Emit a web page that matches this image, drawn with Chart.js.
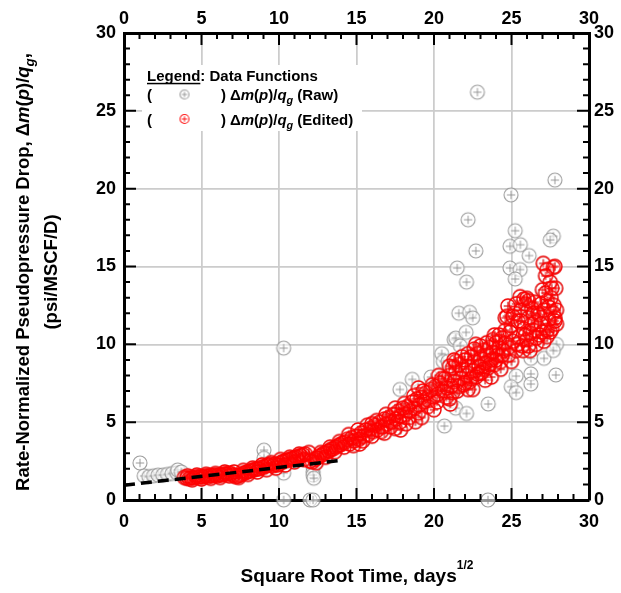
<!DOCTYPE html>
<html><head><meta charset="utf-8">
<script src="https://cdn.jsdelivr.net/npm/chart.js@4.4.1/dist/chart.umd.min.js"></script>
<style>html,body{margin:0;padding:0;background:#fff;}canvas{display:block;}</style>
</head><body>
<canvas id="c" width="621" height="593"></canvas>
<script>
const FONT = '"Liberation Sans", Arial, Helvetica, sans-serif';
const tickValues = [0, 5, 10, 15, 20, 25, 30];

// Edited data: [sqrt(t), dm(p)/qg]
const editedPoints = [
[3.9,1.45],[4.05,1.4],[4.2,1.38],[4.35,1.45],[4.5,1.42],[4.65,1.5],[4.8,1.45],[4.95,1.52],[5.1,1.48],[5.25,1.55],
[5.4,1.5],[5.55,1.58],[5.7,1.55],[5.85,1.6],[6.0,1.55],[6.15,1.62],[6.3,1.6],[6.45,1.68],[6.6,1.65],[6.75,1.72],
[6.9,1.7],[7.05,1.6],[7.2,1.5],[7.35,1.55],[7.5,1.6],[7.65,1.7],[7.8,1.75],[7.95,1.8],[8.1,1.85],[8.25,1.9],
[8.4,1.95],[8.55,2.0],[8.7,2.0],[8.85,2.1],[9.0,2.1],[9.15,2.2],[9.3,2.25],[9.45,2.3],[9.6,2.2],[9.75,2.3],
[9.9,2.25],[10.05,2.35],[10.2,2.45],[10.35,2.5],[10.5,2.55],[10.65,2.6],[10.8,2.65],[10.95,2.7],[11.1,2.75],[11.25,2.8],
[11.4,2.85],[11.55,2.9],[11.7,2.95],[11.93,3.05],[12.0,2.5],[12.15,2.45],[12.3,2.6],[12.45,2.7],[12.6,2.8],[12.75,2.9],
[12.9,3.0],[13.05,3.05],[13.2,3.15],[13.35,3.25],[13.5,3.3],[13.65,3.4],[13.8,3.5],[13.95,3.55],[14.1,3.65],[14.25,3.7],
[14.4,3.9],[14.55,3.6],[14.7,4.0],[14.85,3.8],[15.0,4.1],[15.15,3.9],[15.3,4.3],[15.45,4.1],[15.6,4.5],[15.75,4.2],
[15.9,4.6],[16.05,4.4],[16.2,4.8],[16.35,4.5],[16.5,5.0],[16.65,4.7],[16.8,5.2],[16.95,4.9],[17.1,5.3],[17.25,5.0],
[17.4,5.5],[17.55,5.2],[17.7,5.7],[17.84,4.5],[17.85,5.4],[18.0,5.9],[18.15,5.5],[18.3,6.0],[18.45,5.7],[18.6,6.3],
[18.8,5.03],[18.75,5.9],[18.9,6.5],[19.05,6.1],[19.2,6.6],[19.35,6.3],[19.5,6.9],[19.65,6.4],[19.8,7.1],[19.95,6.6],
[20.1,7.3],[20.25,6.8],[20.4,7.5],[20.55,7.0],[20.7,7.8],[20.85,7.2],[21.0,8.0],[21.05,6.17],[21.1,7.3],[21.2,8.5],
[21.3,7.6],[21.4,8.2],[21.5,7.0],[21.6,8.7],[21.7,7.8],[21.8,8.4],[21.9,7.4],[22.0,9.0],[22.1,8.0],[22.2,8.6],
[22.3,7.6],[22.4,9.2],[22.5,8.3],[22.5,7.1],[22.6,8.9],[22.7,7.9],[22.8,9.4],[22.9,8.6],[23.0,9.1],[23.0,8.15],
[23.1,8.2],[23.2,9.6],[23.3,8.8],[23.4,9.3],[23.5,8.5],[23.6,9.8],[23.7,7.9],[23.7,9.0],[23.8,9.5],[23.9,8.7],
[24.0,10.1],[24.1,9.3],[24.2,9.8],[24.3,8.9],[24.4,10.4],[24.5,9.6],[24.6,10.1],[24.6,11.7],[24.7,11.8],[24.77,12.46],
[24.8,9.3],[24.9,10.8],[25.0,11.2],[25.0,8.9],[25.1,10.2],[25.2,12.0],[25.3,9.6],[25.4,11.5],[25.5,10.5],[25.56,13.06],
[25.6,12.2],[25.7,9.9],[25.75,9.6],[25.8,11.0],[25.9,12.6],[26.0,12.95],[26.0,10.3],[26.1,11.7],[26.1,12.8],[26.2,9.6],
[26.2,10.7],[26.3,12.3],[26.4,10.9],[26.4,12.0],[26.5,11.4],[26.6,10.0],[26.7,12.0],[26.8,10.6],[26.9,11.3],[26.9,12.6],
[27.0,13.5],[27.05,15.2],[27.1,10.2],[27.2,14.4],[27.3,10.5],[27.3,10.9],[27.3,12.8],[27.4,11.6],[27.5,14.0],[27.55,13.0],
[27.6,11.0],[27.7,14.95],[27.75,12.5],[27.8,11.5],[27.8,11.7],[27.8,15.0],[27.9,12.2],[27.85,13.6],
[4.1,1.55],[4.4,1.3],[4.7,1.6],[5.0,1.35],[5.3,1.65],[5.6,1.4],[5.9,1.7],[6.2,1.45],[6.5,1.8],[6.8,1.55],
[7.1,1.8],[7.4,1.45],[7.7,1.9],[8.0,1.65],[8.3,2.05],[8.6,1.8],[8.9,2.25],[9.2,1.95],[9.5,2.4],[9.8,2.05],
[10.1,2.6],[10.4,2.25],[10.7,2.75],[11.0,2.45],[11.3,2.95],[11.6,2.6],[12.4,2.4],[12.7,3.05],[13.0,2.75],[13.3,3.4],
[13.6,3.1],[13.9,3.75],[14.2,3.4],
[14.5,4.2],[14.8,3.5],[15.1,4.5],[15.4,3.8],[15.7,4.8],[16.0,4.1],[16.3,5.1],[16.6,4.4],[16.9,5.5],[17.2,4.7],
[17.5,5.9],[17.8,5.0],[18.1,6.2],[18.4,5.3],[18.7,6.7],[19.0,5.6],[19.3,7.0],[19.6,6.0],[19.9,7.4],[20.2,6.3],
[20.5,7.8],[20.8,6.6],
[21.0,8.6],[21.2,6.9],[21.4,8.9],[21.6,7.3],[21.8,9.2],[22.0,7.5],[22.2,9.4],[22.4,7.8],[22.6,9.7],[22.8,8.1],
[23.0,9.9],[23.2,8.4],[23.4,10.1],[23.6,8.7],[23.8,10.3],[24.0,9.0],[24.2,10.6],[24.4,9.3],[24.6,10.9],[24.8,9.8],
[25.1,11.8],[25.3,12.6],[25.4,10.0],[25.6,11.5],[25.8,12.9],[25.9,10.6],[26.1,9.9],[26.3,11.3],[26.5,12.7],[26.6,10.4],
[26.8,11.9],[27.0,10.8],[27.1,12.2],[27.2,13.3],[27.4,12.4],[27.5,10.8],[27.6,13.6],[27.7,12.0],[27.9,11.3],[27.3,14.8],
[15.2,3.6],[16.0,4.9],[16.8,4.3],[17.5,4.6],[18.2,4.9],[19.2,5.3],[19.0,7.2],[20.0,5.8],[20.3,8.0],[21.0,6.5],
[21.3,9.0],[22.2,7.1],[22.7,10.0],[23.3,7.7],[23.9,10.6],[24.3,8.4]
];

// Raw-only data (points removed in editing)
const rawOnlyPoints = [
[1.03,2.38],[1.3,1.55],[1.6,1.5],[1.9,1.55],[2.2,1.6],[2.5,1.6],[2.8,1.65],[3.1,1.7],[3.4,1.75],[3.46,1.93],[3.7,1.8],
[9.03,3.2],[9.03,2.68],[10.3,9.76],[10.3,0],[10.3,1.73],[12.0,0],[12.2,0],[12.2,2.1],[12.2,1.8],[12.2,1.6],[12.25,1.4],[23.48,0],
[17.8,7.1],[18.6,7.75],[19.8,7.9],[20.5,9.4],[20.6,8.9],[20.9,8.9],[20.67,4.75],[21.3,10.3],[21.4,10.4],[21.7,9.9],
[21.4,5.9],[22.1,5.56],[22.07,10.77],[21.6,12.0],[22.3,12.06],[22.5,11.7],[21.5,14.9],[22.1,14.0],[22.2,18.0],[22.7,16.0],
[22.8,26.2],[23.5,6.17],[24.9,14.9],[25.56,14.8],[25.24,14.2],[24.97,19.6],[25.24,17.3],[24.9,16.3],[25.57,16.4],[26.14,15.7],
[27.8,20.55],[27.7,16.95],[27.5,16.7],[26.25,9.1],[27.1,9.1],[27.9,10.0],[27.7,9.6],[26.25,8.1],[26.25,7.45],[25.3,7.96],
[24.98,7.28],[25.3,6.9],[27.86,8.03]
];

// Straight-line fit (dashed)
const fitPoints = [[0, 0.95], [13.8, 2.52]];

const toXY = a => a.map(p => ({x: p[0], y: p[1]}));

function marker(color, fill, r, size, lw) {
  const c = document.createElement('canvas');
  c.width = c.height = size;
  const g = c.getContext('2d');
  const m = size / 2;
  g.beginPath(); g.arc(m, m, r, 0, Math.PI * 2);
  if (fill) { g.fillStyle = fill; g.fill(); }
  g.strokeStyle = color; g.lineWidth = lw; g.stroke();
  const a = r * 0.6;
  g.beginPath(); g.moveTo(m - a, m); g.lineTo(m + a, m); g.moveTo(m, m - a); g.lineTo(m, m + a);
  g.lineWidth = 1; g.stroke();
  return c;
}
const redMark = marker('rgba(255,0,0,0.95)', null, 7, 18, 1.4);
const grayMark = marker('rgba(140,140,140,0.85)', 'rgba(255,255,255,0.6)', 7, 18, 1.1);
const redLeg = marker('rgba(255,0,0,0.9)', null, 4.5, 12, 1.1);
const grayLeg = marker('rgba(140,140,140,0.85)', null, 4.5, 12, 1.1);

function segFont(s, size) {
  const sz = s.size || ((s.sub || s.sup) ? size * 0.72 : size);
  return (s.it ? 'italic ' : '') + 'bold ' + sz + 'px ' + FONT;
}
function richWidth(ctx, segs, size) {
  let w = 0;
  for (const s of segs) { ctx.font = segFont(s, size); w += ctx.measureText(s.t).width; }
  return w;
}
function drawRich(ctx, segs, x, y, size, align) {
  const w = richWidth(ctx, segs, size);
  let cx = align === 'center' ? x - w / 2 : x;
  ctx.textBaseline = 'alphabetic'; ctx.textAlign = 'left'; ctx.fillStyle = '#000';
  for (const s of segs) {
    ctx.font = segFont(s, size);
    const dy = s.dy !== undefined ? s.dy : (s.sub ? size * 0.28 : (s.sup ? -size * 0.42 : 0));
    ctx.fillText(s.t, cx, y + dy);
    const sw = ctx.measureText(s.t).width;
    if (s.u) ctx.fillRect(cx, y + 2.3, sw, 1.5);
    cx += sw;
  }
}

const dmq = [{t: 'Δ'}, {t: 'm', it: true}, {t: '('}, {t: 'p', it: true}, {t: ')/'}, {t: 'q', it: true}, {t: 'g', it: true, sub: true}];

const decor = {
  id: 'decor',
  afterDraw(chart) {
    const ctx = chart.ctx;
    const a = chart.chartArea;
    const sx = chart.scales.x, sy = chart.scales.y;
    ctx.save();
    ctx.strokeStyle = '#000'; ctx.lineWidth = 2;
    ctx.beginPath();
    for (let v = 1; v < 30; v++) {
      const len = v % 5 === 0 ? 12 : 6;
      const px = sx.getPixelForValue(v), py = sy.getPixelForValue(v);
      ctx.moveTo(px, a.bottom); ctx.lineTo(px, a.bottom - len);
      ctx.moveTo(px, a.top); ctx.lineTo(px, a.top + len);
      ctx.moveTo(a.left, py); ctx.lineTo(a.left + len, py);
      ctx.moveTo(a.right, py); ctx.lineTo(a.right - len, py);
    }
    ctx.stroke();

    ctx.fillStyle = '#fff';
    ctx.fillRect(142, 65, 220, 66);
    const ls = 15;
    drawRich(ctx, [{t: 'Legend', u: true}, {t: ': Data Functions'}], 147, 80.5, ls, 'left');
    drawRich(ctx, [{t: '('}], 147, 100, ls, 'left');
    drawRich(ctx, [{t: ')'}], 221, 100, ls, 'left');
    drawRich(ctx, dmq.concat([{t: ' (Raw)'}]), 230, 100, ls, 'left');
    ctx.drawImage(grayLeg, 184.5 - 6, 94.5 - 6);
    drawRich(ctx, [{t: '('}], 147, 124.5, ls, 'left');
    drawRich(ctx, [{t: ')'}], 221, 124.5, ls, 'left');
    drawRich(ctx, dmq.concat([{t: ' (Edited)'}]), 230, 124.5, ls, 'left');
    ctx.drawImage(redLeg, 184.5 - 6, 119 - 6);

    drawRich(ctx, [{t: 'Square Root Time, days'}, {t: '1/2', size: 12, dy: -13}], 357, 582, 19, 'center');

    ctx.save();
    ctx.translate(28.5, 272); ctx.rotate(-Math.PI / 2);
    drawRich(ctx, [{t: 'Rate-Normalized Pseudopressure Drop, '}].concat(dmq, [{t: ','}]), 0, 0, 18.5, 'center');
    ctx.restore();
    ctx.save();
    ctx.translate(56.5, 272); ctx.rotate(-Math.PI / 2);
    drawRich(ctx, [{t: '(psi/MSCF/D)'}], 0, 0, 18.5, 'center');
    ctx.restore();
    ctx.restore();
  }
};

function axis(pos, pad, size) {
  return {
    type: 'linear', position: pos, min: 0, max: 30,
    ticks: {
      stepSize: 5, color: '#000', padding: pad, maxRotation: 0, autoSkip: false,
      font: {family: FONT, size: 18, weight: 'bold'},
      callback: v => tickValues.includes(v) ? String(v) : ''
    },
    grid: {
      drawTicks: false, lineWidth: 1.5,
      color: c => (c.tick && c.tick.value > 0 && c.tick.value < 30) ? '#cccccc' : 'rgba(0,0,0,0)'
    },
    border: {color: '#000', width: 3},
    afterFit: s => { if (s.isHorizontal()) s.height = size; else s.width = size; }
  };
}

new Chart(document.getElementById('c'), {
  type: 'scatter',
  data: {
    datasets: [
      {type: 'line', label: 'fit', data: toXY(fitPoints), borderColor: '#000', borderWidth: 3.5,
       borderDash: [11, 6], pointRadius: 0, fill: false, xAxisID: 'x', yAxisID: 'y'},
      {label: 'Edited', data: toXY(editedPoints), pointStyle: redMark, pointRadius: 7, clip: false,
       xAxisID: 'x', yAxisID: 'y'},
      {label: 'Raw', data: toXY(rawOnlyPoints.concat(editedPoints)), pointStyle: grayMark, pointRadius: 7, clip: false,
       xAxisID: 'x', yAxisID: 'y'}
    ]
  },
  options: {
    responsive: false, animation: false, devicePixelRatio: 1,
    layout: {padding: 0},
    plugins: {legend: {display: false}, tooltip: {enabled: false}},
    events: [],
    scales: {
      x: axis('bottom', 11, 93),
      x2: axis('top', 3, 33),
      y: axis('left', 8, 124),
      y2: axis('right', 5, 32)
    }
  },
  plugins: [decor]
});
</script>
</body></html>
